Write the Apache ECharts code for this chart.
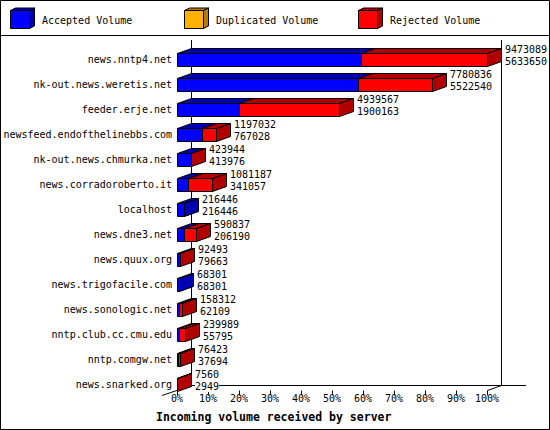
<!DOCTYPE html>
<html>
<head>
<meta charset="utf-8">
<script src="https://cdn.jsdelivr.net/npm/echarts@6/dist/echarts.min.js"></script>
<style>
html,body{margin:0;padding:0;background:#fff;}
#chart{width:550px;height:430px;}
</style>
</head>
<body>
<div id="chart"></div>
<script>
const hosts = [
  'news.nntp4.net','nk-out.news.weretis.net','feeder.erje.net','newsfeed.endofthelinebbs.com',
  'nk-out.news.chmurka.net','news.corradoroberto.it','localhost','news.dne3.net',
  'news.quux.org','news.trigofacile.com','news.sonologic.net','nntp.club.cc.cmu.edu',
  'nntp.comgw.net','news.snarked.org'
];
const totalVolume = [9473089,7780836,4939567,1197032,423944,1081187,216446,590837,92493,68301,158312,239989,76423,7560];
const acceptedVolume = [5633650,5522540,1900163,767028,413976,341057,216446,206190,79663,68301,62109,55795,37694,2949];
const duplicatedVolume = [0,0,0,0,0,0,0,0,0,0,0,0,0,0];
const rejectedVolume = [3839439,2258296,3039404,430004,9968,740130,0,384647,12830,0,96203,184194,38729,4611];
const tickLabels = ['0%','10%','20%','30%','40%','50%','60%','70%','80%','90%','100%'];
const seriesNames = ['Accepted Volume','Duplicated Volume','Rejected Volume'];

const FONT = '"DejaVu Sans Mono", "Liberation Mono", monospace';
const faceColors = ['#0000ff','#ffb000','#ff0000'];
const darkColors = ['#0000b0','#b07c00','#b00000'];
const DX = 14, DY = 5, BAR_H = 13;

const maxTotal = Math.max(...totalVolume);
const segments = [acceptedVolume, duplicatedVolume, rejectedVolume];

function segData(k) {
  return hosts.map((h, i) => {
    let start = 0;
    for (let j = 0; j < k; j++) start += segments[j][i];
    let last = 0;
    for (let j = 0; j < segments.length; j++) if (segments[j][i] > 0) last = j;
    return [i, start, start + segments[k][i], last === k ? 1 : 0];
  });
}

function makeRender(k) {
  return function (params, api) {
    const i = api.value(0), s = api.value(1), e = api.value(2), last = api.value(3);
    if (e - s <= 0) return null;
    const p0 = api.coord([s, i]);
    const p1 = api.coord([e, i]);
    const x0 = Math.round(p0[0]) + 0.5;
    const x1 = Math.max(x0, Math.round(p1[0]) + 0.5);
    const top = Math.round(p0[1] - BAR_H / 2) + 0.5;
    const bot = top + BAR_H;
    const st = { stroke: '#000', lineWidth: 1 };
    const children = [
      { type: 'polygon', shape: { points: [[x0, top], [x1, top], [x1 + DX, top - DY], [x0 + DX, top - DY]] },
        style: Object.assign({ fill: darkColors[k] }, st) },
      { type: 'rect', shape: { x: x0, y: top, width: x1 - x0, height: BAR_H },
        style: Object.assign({ fill: faceColors[k] }, st) }
    ];
    if (last) {
      children.push({ type: 'polygon', shape: { points: [[x1, top], [x1 + DX, top - DY], [x1 + DX, bot - DY], [x1, bot]] },
        style: Object.assign({ fill: darkColors[k] }, st) });
    }
    return { type: 'group', children };
  };
}

const labelData = hosts.map((h, i) => [i, totalVolume[i], acceptedVolume[i]]);

const series = [0, 1, 2].map(k => ({
  name: seriesNames[k],
  type: 'custom',
  z: 3,
  renderItem: makeRender(k),
  encode: { x: [1, 2], y: 0 },
  data: segData(k)
}));
series.push({
  name: 'labels',
  type: 'custom',
  z: 4,
  renderItem: function (params, api) {
    const i = api.value(0), t = api.value(1), a = api.value(2);
    const p = api.coord([t, i]);
    return {
      type: 'text',
      style: {
        x: Math.round(p[0]) + DX + 4,
        y: Math.round(p[1]) - 3.5,
        text: t + '\n' + a,
        font: '10px ' + FONT,
        fill: '#000',
        backgroundColor: '#fff',
        lineHeight: 11.5,
        align: 'left',
        verticalAlign: 'middle'
      }
    };
  },
  encode: { x: 1, y: 0 },
  data: labelData
});

function legendItem(x, k) {
  return [
    { type: 'polygon', shape: { points: [[x + 0.5, 10.5], [x + 19.5, 10.5], [x + 24.5, 8], [x + 5.5, 8]] },
      style: { fill: darkColors[k], stroke: '#000', lineWidth: 1 } },
    { type: 'polygon', shape: { points: [[x + 19.5, 10.5], [x + 24.5, 8], [x + 24.5, 26], [x + 19.5, 28.5]] },
      style: { fill: darkColors[k], stroke: '#000', lineWidth: 1 } },
    { type: 'rect', shape: { x: x + 0.5, y: 10.5, width: 19, height: 18 },
      style: { fill: faceColors[k], stroke: '#000', lineWidth: 1 } },
    { type: 'text', x: x + 32, y: 20,
      style: { text: seriesNames[k], font: '10px ' + FONT, fill: '#000', verticalAlign: 'middle' } }
  ];
}

const lineSt = { stroke: '#000', lineWidth: 1 };
const graphic = [
  { type: 'rect', z: 0, shape: { x: 0.5, y: 0.5, width: 549, height: 429 }, style: { fill: 'none', stroke: '#000', lineWidth: 1 } },
  { type: 'line', z: 0, shape: { x1: 0, y1: 35.5, x2: 550, y2: 35.5 }, style: lineSt },
  { type: 'line', z: 0, shape: { x1: 191.5, y1: 40, x2: 191.5, y2: 385.5 }, style: lineSt },
  { type: 'line', z: 0, shape: { x1: 501.5, y1: 40, x2: 501.5, y2: 385.5 }, style: lineSt },
  { type: 'line', z: 0, shape: { x1: 191.5, y1: 385.5, x2: 526, y2: 385.5 }, style: lineSt },
  { type: 'line', z: 0, shape: { x1: 162, y1: 395.5, x2: 191.5, y2: 385.5 }, style: lineSt },
  { type: 'line', z: 0, shape: { x1: 487.5, y1: 390.5, x2: 501.5, y2: 385.5 }, style: lineSt },
  { type: 'text', z: 5, x: 156, y: 417,
    style: { text: 'Incoming volume received by server', font: 'bold 11.5px ' + FONT, fill: '#000', verticalAlign: 'middle' } }
].concat(legendItem(10, 0), legendItem(184, 1), legendItem(358, 2));

const chart = echarts.init(document.getElementById('chart'), null, { renderer: 'svg' });
chart.setOption({
  animation: false,
  backgroundColor: '#fff',
  grid: { left: 177, right: 63, top: 47, bottom: 33.5 },
  xAxis: {
    type: 'value',
    min: 0,
    max: maxTotal,
    interval: maxTotal / 10,
    offset: -6,
    axisLine: { show: false },
    axisTick: { show: true, length: 5, lineStyle: { color: '#000' } },
    splitLine: { show: false },
    axisLabel: {
      margin: 3,
      color: '#000',
      fontFamily: FONT,
      fontSize: 10,
      formatter: (v, idx) => tickLabels[Math.round(v / maxTotal * 10)]
    }
  },
  yAxis: {
    type: 'category',
    inverse: true,
    data: hosts,
    axisLine: { show: false },
    axisTick: { show: false },
    splitLine: { show: false },
    axisLabel: { margin: 5, color: '#000', fontFamily: FONT, fontSize: 10 }
  },
  graphic: graphic,
  series: series
});
</script>
</body>
</html>
